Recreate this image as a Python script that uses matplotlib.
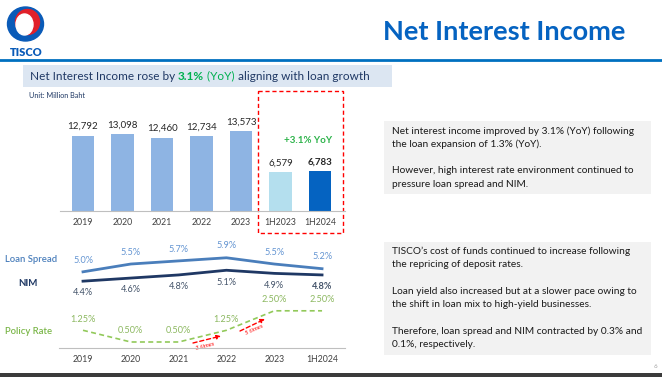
import matplotlib
matplotlib.use("Agg")
import matplotlib.pyplot as plt
from matplotlib.patches import Rectangle, Ellipse

plt.rcParams['font.family'] = ['Lato', 'DejaVu Sans']

# ---- data ----
bar_cats = ["2019", "2020", "2021", "2022", "2023", "1H2023", "1H2024"]
nii = [12792, 13098, 12460, 12734, 13573, 6579, 6783]
nii_labels = ["12,792", "13,098", "12,460", "12,734", "13,573", "6,579", "6,783"]

line_cats = ["2019", "2020", "2021", "2022", "2023", "1H2024"]
loan_spread = [5.0, 5.5, 5.7, 5.9, 5.5, 5.2]
nim = [4.4, 4.6, 4.8, 5.1, 4.9, 4.8]
policy_rate = [1.25, 0.50, 0.50, 1.25, 2.50, 2.50]

box1_lines = ["Net interest income improved by 3.1% (YoY) following",
              "the loan expansion of 1.3% (YoY).",
              "",
              "However, high interest rate environment continued to",
              "pressure loan spread and NIM."]
box2_lines = ["TISCO\u2019s cost of funds continued to increase following",
              "the repricing of deposit rates.",
              "",
              "Loan yield also increased but at a slower pace owing to",
              "the shift in loan mix to high-yield businesses.",
              "",
              "Therefore, loan spread and NIM contracted by 0.3% and",
              "0.1%, respectively."]

# ---- colours ----
BLUE = "#0563c1"
NAVY = "#1f3864"
GREEN = "#00b050"
BAR_C = "#8eb4e3"
BAR_1H23 = "#b4dfee"
BAR_1H24 = "#0563c1"
LS_C = "#4a7ebb"
LS_LBL = "#6495d2"
NIM_C = "#1f3864"
NIM_LBL = "#44546a"
POL_C = "#92c95a"
POL_LBL = "#8cb860"

W, H = 662, 377
fig = plt.figure(figsize=(W / 100, H / 100), dpi=100)


def fig_rect(x0, y0, x1, y1):
    return [x0 / W, 1 - y1 / H, (x1 - x0) / W, (y1 - y0) / H]


# background / slide layer in pixel coordinates
bg = fig.add_axes([0, 0, 1, 1])
bg.set_xlim(0, W)
bg.set_ylim(H, 0)
bg.axis("off")

# logo
bg.add_patch(Ellipse((25.5, 24), 36, 34, color="#0a5bb8"))
bg.add_patch(Ellipse((27.5, 22), 24, 25, color="#e0202a"))
bg.add_patch(Ellipse((24.5, 24.5), 17, 21, color="white"))
bg.text(26, 53, "TISCO", color="#0a5bb8", fontsize=8, fontweight="heavy",
        ha="center", va="center")

# title + rule
bg.text(625, 32, "Net Interest Income", color=BLUE, fontsize=19.5,
        fontweight="bold", ha="right", va="center")
bg.plot([0, W], [59.5, 59.5], color="#0070c0", lw=2)

# subtitle box with multicolour text
bg.add_patch(Rectangle((23, 65), 369, 22, color="#dce6f2", lw=0))
pieces = [("Net Interest Income rose by ", NAVY, "normal"),
          ("3.1%", GREEN, "bold"),
          (" (YoY)", GREEN, "normal"),
          (" aligning with loan growth", NAVY, "normal")]
r = fig.canvas.get_renderer()
x = 30
for txt, col, wt in pieces:
    t = bg.text(x, 79.5, txt, color=col, fontsize=8.5, fontweight=wt,
                ha="left", va="baseline")
    ext = t.get_window_extent(renderer=r)
    x = bg.transData.inverted().transform((ext.x1, ext.y0))[0]

bg.text(29, 95, "Unit: Million Baht", color=NAVY, fontsize=5.2, va="center")

# red dashed highlight box
bg.add_patch(Rectangle((258, 91), 85, 142, fill=False, ec="#ff0000",
                       lw=1, ls=(0, (3, 2))))

# right text boxes
bg.add_patch(Rectangle((384, 121), 267, 73, color="#f2f2f2", lw=0))
bg.add_patch(Rectangle((384, 242), 267, 113, color="#f2f2f2", lw=0))
for i, line in enumerate(box1_lines):
    bg.text(392, 131 + 13.3 * i, line, fontsize=7.3, color="#1a1a1a",
            va="center", ha="left")
for i, line in enumerate(box2_lines):
    bg.text(392, 251 + 13.4 * i, line, fontsize=7.3, color="#1a1a1a",
            va="center", ha="left")
bg.text(655, 367, "6", fontsize=4.5, color="#a0a0a0", ha="center", va="center")

# bottom strip
bg.add_patch(Rectangle((0, 373), W, 4, color="#3b3b3b", lw=0))

# left-side labels of line chart
bg.text(5, 259, "Loan Spread", color=LS_C, fontsize=6.8, fontweight="semibold",
        va="center")
bg.text(18, 284, "NIM", color=NAVY, fontsize=7, fontweight="bold", va="center")
bg.text(5, 332, "Policy Rate", color="#7ab648", fontsize=6.8,
        fontweight="semibold", va="center")

# ---- bar chart ----
ax1 = fig.add_axes(fig_rect(60, 100, 345, 211))
ax1.patch.set_alpha(0)
xs = range(len(bar_cats))
colors = [BAR_C] * 5 + [BAR_1H23, BAR_1H24]
ax1.bar(xs, nii, width=0.56, color=colors)
ax1.set_xlim(-0.582, 6.633)
ax1.set_ylim(0, 18932)
for i, (v, lab) in enumerate(zip(nii, nii_labels)):
    ax1.annotate(lab, (i, v), xytext=(0, 3.5), textcoords="offset points",
                 ha="center", va="bottom", fontsize=7, color="#262626",
                 fontweight="bold" if i == 6 else "normal")
ax1.set_xticks(list(xs), bar_cats)
ax1.tick_params(axis="x", length=0, pad=5, labelsize=6.3, labelcolor="#404040")
ax1.set_yticks([])
for s in ["top", "right", "left"]:
    ax1.spines[s].set_visible(False)
ax1.spines["bottom"].set_color("#bfbfbf")
ax1.text(6 - 0.3, 12100, "+3.1% YoY", color="#2db34a", fontsize=7,
         fontweight="bold", ha="center", va="center")

# ---- line chart ----
ax2 = fig.add_axes(fig_rect(59, 240, 345, 348))
ax2.patch.set_alpha(0)
lx = range(len(line_cats))
ax2.plot(lx, loan_spread, color=LS_C, lw=2)
ax2.plot(lx, nim, color=NIM_C, lw=2)
ax2.plot(lx, policy_rate, color=POL_C, lw=1.2, ls=(0, (3, 2)))
ax2.set_xlim(-0.502, 5.48)
ax2.set_ylim(0.115, 7.04)
for i in lx:
    ax2.annotate(f"{loan_spread[i]:.1f}%", (i, loan_spread[i]), xytext=(0, 8.5),
                 textcoords="offset points", ha="center", va="center",
                 fontsize=6.6, color=LS_LBL)
    ax2.annotate(f"{nim[i]:.1f}%", (i, nim[i]), xytext=(0, -8.5),
                 textcoords="offset points", ha="center", va="center",
                 fontsize=6.6, color=NIM_LBL,
                 fontweight="bold" if i == 5 else "normal")
    ax2.annotate(f"{policy_rate[i]:.2f}%", (i, policy_rate[i]), xytext=(0, 8),
                 textcoords="offset points", ha="center", va="center",
                 fontsize=6.6, color=POL_LBL)
ax2.set_xticks(list(lx), line_cats)
ax2.tick_params(axis="x", length=0, pad=5, labelsize=6.3, labelcolor="#404040")
ax2.set_yticks([])
for s in ["top", "right", "left"]:
    ax2.spines[s].set_visible(False)
ax2.spines["bottom"].set_color("#bfbfbf")

# rate hike annotations
for (x0, y0, x1, y1), txt, tx, ty, rot in [
        ((193, 343, 221, 336), "3 times", 205, 346.5, 14),
        ((240, 331, 265, 319), "5 times", 254, 329.5, 24)]:
    bg.annotate("", xy=(x1, y1), xytext=(x0, y0),
                arrowprops=dict(arrowstyle="-|>", color="red", lw=1,
                                ls=(0, (3, 2)), mutation_scale=6,
                                shrinkA=0, shrinkB=0))
    bg.text(tx, ty, txt, color="red", fontsize=4.5, style="italic",
            rotation=rot, ha="center", va="center")

fig.savefig("out.png", dpi=100)
